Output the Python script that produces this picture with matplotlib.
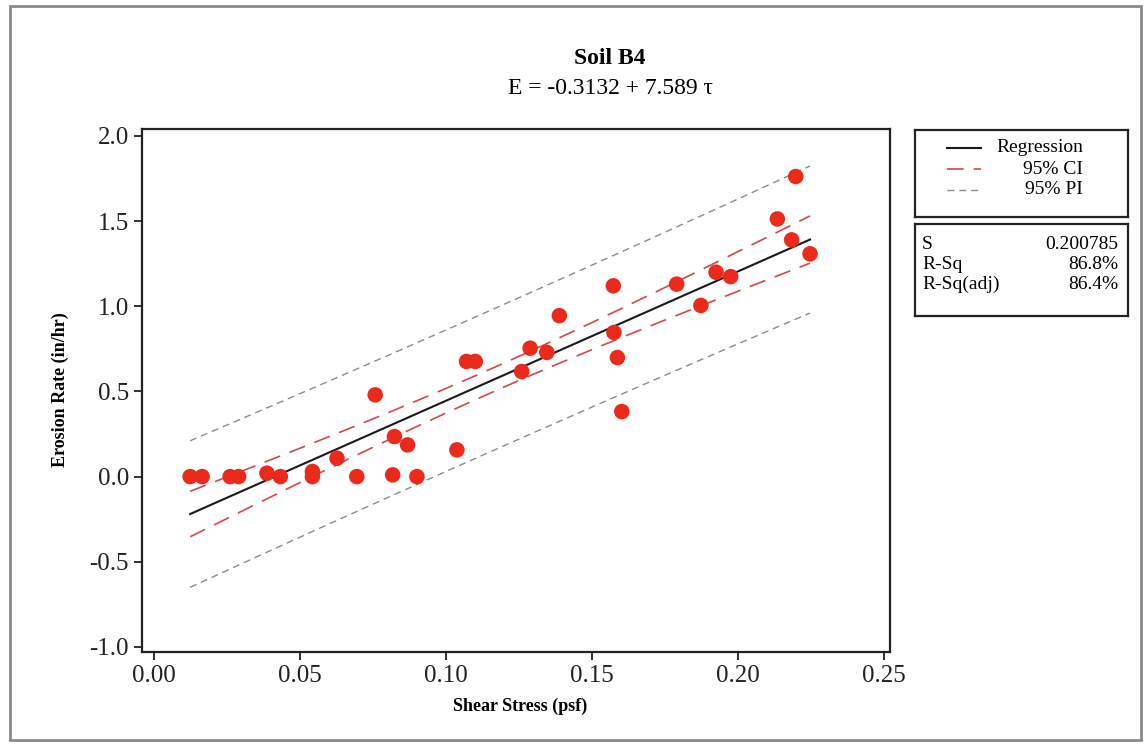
import numpy as np
import matplotlib
matplotlib.use('Agg')
import matplotlib.pyplot as plt
from matplotlib.lines import Line2D
from matplotlib.patches import Rectangle

plt.rcParams['font.family'] = ['Liberation Serif', 'DejaVu Serif']

# data
shear_stress = [0.0123, 0.0164, 0.0260, 0.0289, 0.0386, 0.0432, 0.0542, 0.0542,
                0.0626, 0.0694, 0.0757, 0.0823, 0.0817, 0.0868, 0.0900, 0.1037,
                0.1070, 0.1100, 0.1259, 0.1288, 0.1345, 0.1388, 0.1573, 0.1575,
                0.1587, 0.1602, 0.1790, 0.1873, 0.1925, 0.1975, 0.2135, 0.2184,
                0.2198, 0.2247]
erosion_rate = [0.0, 0.0, 0.0, 0.0, 0.02, 0.0, 0.03, 0.0,
                0.108, 0.0, 0.48, 0.235, 0.01, 0.186, 0.0, 0.157,
                0.676, 0.676, 0.617, 0.754, 0.729, 0.945, 1.12, 0.846,
                0.699, 0.382, 1.13, 1.005, 1.20, 1.174, 1.513, 1.39,
                1.762, 1.308]

# fit stats shown on the chart
b0, b1 = -0.3132, 7.589
s_fit = 0.200785
stat_names = ['S', 'R-Sq', 'R-Sq(adj)']
stat_values = ['0.200785', '86.8%', '86.4%']
legend_labels = ['Regression', '95% CI', '95% PI']
x_ticks = [0.00, 0.05, 0.10, 0.15, 0.20, 0.25]
y_ticks = [-1.0, -0.5, 0.0, 0.5, 1.0, 1.5, 2.0]

W, H = 1145, 744
fig = plt.figure(figsize=(W / 100, H / 100), dpi=100)


def fx(px):
    return px / W


def fy(py):
    return 1 - py / H


# outer frame
fig.patches.append(Rectangle((fx(10), fy(740)), fx(1131), 734 / H, transform=fig.transFigure,
                             fill=False, edgecolor='#8a8a8a', linewidth=2))

ax = fig.add_axes([fx(142), fy(652), fx(890 - 142), (652 - 129) / H])

x = np.array(shear_stress)
y = np.array(erosion_rate)
n = len(x)
xbar = x.mean()
sxx = ((x - xbar) ** 2).sum()
t_val = 2.037  # t(0.975, n-2)

xs = np.linspace(x.min(), x.max(), 200)
fit = b0 + b1 * xs
se_mean = s_fit * np.sqrt(1.0 / n + (xs - xbar) ** 2 / sxx)
se_pred = s_fit * np.sqrt(1.0 + 1.0 / n + (xs - xbar) ** 2 / sxx)

ci_kw = dict(color='#d8464c', linewidth=1.2, dashes=(10, 6))
pi_kw = dict(color='#8c8c8c', linewidth=1.0, dashes=(5, 3.5))

ax.plot(xs, fit + t_val * se_pred, **pi_kw)
ax.plot(xs, fit - t_val * se_pred, **pi_kw)
ax.plot(xs, fit + t_val * se_mean, **ci_kw)
ax.plot(xs, fit - t_val * se_mean, **ci_kw)
ax.plot(xs, fit, color='#1a1a1a', linewidth=1.5)
ax.scatter(x, y, s=125, color='#ec2a1c', edgecolors='none', zorder=5)

ax.set_xlim(-0.0042, 0.2521)
ax.set_ylim(-1.03, 2.041)
ax.set_xticks(x_ticks)
ax.set_xticklabels(['%.2f' % v for v in x_ticks])
ax.set_yticks(y_ticks)
ax.set_yticklabels(['%.1f' % v for v in y_ticks])
ax.tick_params(direction='out', length=6, width=1.3, labelsize=18, colors='#222222')
for sp in ax.spines.values():
    sp.set_linewidth(1.6)
    sp.set_color('#222222')

fig.text(fx(60), fy(390), 'Erosion Rate (in/hr)', rotation=90, ha='center', va='center',
         fontsize=13, fontweight='bold')
fig.text(fx(520), fy(706), 'Shear Stress (psf)', ha='center', va='center',
         fontsize=13, fontweight='bold')
fig.text(fx(610), fy(59), 'Soil B4', ha='center', va='center', fontsize=17, fontweight='bold')
fig.text(fx(610), fy(88), 'E = -0.3132 + 7.589 \u03c4', ha='center', va='center', fontsize=17)

# legend box
lg = fig.add_axes([fx(915), fy(217), fx(1128 - 915), (217 - 130) / H])
lg.set_xlim(915, 1128)
lg.set_ylim(217, 130)
lg.set_xticks([])
lg.set_yticks([])
for sp in lg.spines.values():
    sp.set_linewidth(1.6)
    sp.set_color('#222222')
rows = [148, 169, 190]
styles = [dict(color='#1a1a1a', linewidth=1.5), ci_kw, pi_kw]
for row, lab, st in zip(rows, legend_labels, styles):
    lg.add_line(Line2D([947, 981], [row, row], **st))
    lg.text(1083, row, lab, ha='right', va='center', fontsize=14)

# stats box
sb = fig.add_axes([fx(915), fy(316), fx(1128 - 915), (316 - 224) / H])
sb.set_xlim(915, 1128)
sb.set_ylim(316, 224)
sb.set_xticks([])
sb.set_yticks([])
for sp in sb.spines.values():
    sp.set_linewidth(1.6)
    sp.set_color('#222222')
for row, name, val in zip([244, 264, 284], stat_names, stat_values):
    sb.text(922, row, name, ha='left', va='center', fontsize=14)
    sb.text(1118, row, val, ha='right', va='center', fontsize=14)

fig.savefig('out.png', dpi=100)
